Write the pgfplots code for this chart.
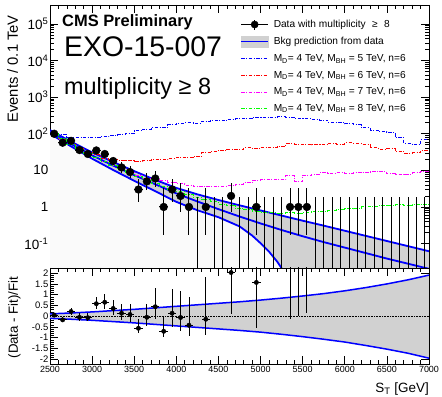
\documentclass[border=0pt]{standalone}
\usepackage{fontspec}
\setmainfont{Liberation Sans}
\usepackage{pgfplots}
\usepackage{pgfplotstable}
\pgfplotsset{compat=1.18}

\definecolor{bandgray}{gray}{0.82}
\definecolor{lightbg}{gray}{0.982}
\definecolor{rootblue}{rgb}{0,0,1}
\definecolor{rootred}{rgb}{1,0,0}
\definecolor{rootmag}{rgb}{1,0,1}
\definecolor{rootgreen}{rgb}{0,1,0}

\pgfplotsset{
  sigline/.style={line width=1bp, dash pattern=on 3.5bp off 1.5bp on 1bp off 1.5bp},
  siglegend/.style={legend image code/.code={\draw[##1] (0bp,0bp) -- (27bp,0bp);}},
  rootframe/.style={
    scale only axis, width=379bp, xmin=2500, xmax=7000,
    tick align=inside, xtick pos=both, ytick pos=both,
    xticklabel pos=lower, yticklabel pos=left,
    major tick length=8bp, minor tick length=4bp,
    tick style={black, line width=0.6bp},
    axis line style={line width=0.8bp},
    /pgf/number format/assume math mode=true,
    /pgf/number format/1000 sep={},
  },
}

% Observed counts per 100 GeV bin: centre, count, half width, Poisson errors
\pgfplotstableread{
x    y    ex  eyl    eyu
2550 100  50  9.97   11.0
2650 57   50  7.53   8.58
2750 64   50  7.98   9.04
2850 36   50  5.98   7.04
2950 28   50  5.26   6.35
3050 35   50  5.89   6.96
3150 28   50  5.26   6.35
3250 18   50  4.22   5.30
3350 12   50  3.41   4.55
3450 9    50  2.94   4.11
3550 3    50  1.63   2.92
3650 5    50  2.16   3.38
3750 6    50  2.38   3.58
3850 1    50  0.827  2.30
3950 3    50  1.63   2.92
4050 2    50  1.29   2.64
4150 1    50  0.827  2.30
4350 1    50  0.827  2.30
4650 2    50  1.29   2.64
4950 1    50  0.827  2.30
5350 1    50  0.827  2.30
5450 1    50  0.827  2.30
5550 1    50  0.827  2.30
}\datatab

% Empty bins: upper edge of the 68% interval for zero counts
\pgfplotstableread{
x    y
4250 1.84
4450 1.84
4550 1.84
4750 1.84
4850 1.84
5050 1.84
5150 1.84
5250 1.84
5650 1.84
5750 1.84
5850 1.84
5950 1.84
6050 1.84
6150 1.84
6250 1.84
6350 1.84
6450 1.84
6550 1.84
6650 1.84
6750 1.84
6850 1.84
6950 1.84
}\zerotab

% Background fit: central value and edges of the uncertainty band
\pgfplotstableread{
x    y
2500 112.2
2750 52.48
3000 25.70
3250 13.49
3500 7.413
3750 4.169
4000 2.344
4250 1.413
4500 0.871
4750 0.5495
5000 0.3548
5250 0.2344
5500 0.1585
5750 0.1096
6000 0.0776
6250 0.0550
6500 0.0389
6750 0.0282
7000 0.0204
}\fittab

\pgfplotstableread{
x    y
2500 125.9
2750 60.95
3000 30.90
3250 16.98
3500 9.550
3750 5.495
4000 3.311
4250 2.213
4500 1.549
4750 1.109
5000 0.8035
5250 0.5821
5500 0.4217
5750 0.3090
6000 0.2239
6250 0.1622
6500 0.1175
6750 0.0851
7000 0.0617
}\fitup

\pgfplotstableread{
x    y
2500 100
2750 45.19
3000 20.89
3250 10.23
3500 5.188
3750 2.692
4000 1.380
4250 0.8128
4500 0.5248
4750 0.2951
4900 0.1660
5000 0.1023
5100 0.0603
5200 0.0316
5300 0.0141
5400 0.0050
}\fitlow

% Signal + background expectations, 100 GeV bins (lower edges)
\pgfplotstableread{
x    b5    r6    m7    g8
2500 104.7 100   104.7 104.7
2600 93.3  70.8  70.8  72.4
2700 81.3  52.5  52.5  52.5
2800 79.4  39.8  38.0  38.9
2900 81.3  31.6  28.8  29.5
3000 79.4  26.3  22.9  22.9
3100 85.1  21.4  17.8  17.4
3200 91.2  20.0  13.8  13.5
3300 93.3  19.1  11.0  10.5
3400 100   18.6  8.91  8.32
3500 120.2 17.8  7.24  6.76
3600 134.9 18.6  6.17  5.50
3700 147.9 20.0  5.62  4.47
3800 151.4 19.5  5.25  3.72
3900 173.8 21.4  4.79  3.09
4000 190.5 22.9  4.37  2.57
4100 199.5 22.4  3.98  2.19
4200 195.0 24.0  3.72  1.86
4300 218.8 30.2  3.55  1.62
4400 229.1 33.1  3.55  1.38
4500 223.9 35.5  3.63  1.20
4600 251.2 37.2  3.80  1.07
4700 263.0 38.0  4.17  0.933
4800 257.0 41.7  4.57  0.851
4900 275.4 39.8  5.25  0.776
5000 281.8 42.7  5.50  0.724
5100 275.4 41.7  5.75  0.692
5200 288.4 45.7  5.62  0.676
5300 281.8 53.7  7.24  0.692
5400 269.2 52.5  5.01  0.676
5500 263.0 50.1  7.41  0.708
5600 251.2 52.5  7.76  0.741
5700 234.4 51.3  8.51  0.759
5800 204.2 55.0  8.32  0.794
5900 199.5 52.5  8.51  0.832
6000 186.2 56.2  8.32  0.891
6100 173.8 55.0  8.71  0.933
6200 144.5 52.5  8.91  1.00
6300 125.9 41.7  9.12  1.05
6400 114.8 38.0  9.33  1.10
6500 107.2 39.8  8.13  1.07
6600 79.4  33.1  7.59  1.15
6700 55.0  29.5  7.94  1.12
6800 50.1  30.2  8.71  1.17
6900 67.6  34.7  9.33  1.15
7000 67.6  34.7  9.33  1.15
}\sigtab

% (Data - Fit)/Fit per bin
\pgfplotstableread{
x    r     ex  el    eu
2550 0.05  50  0.104 0.116
2650 -0.17 50  0.109 0.124
2750 0.22  50  0.152 0.172
2850 -0.05 50  0.157 0.185
2950 -0.07 50  0.175 0.212
3050 0.58  50  0.267 0.315
3150 0.65  50  0.309 0.374
3250 0.36  50  0.32  0.40
3350 0.14  50  0.325 0.433
3450 0.08  50  0.354 0.495
3550 -0.56 50  0.24  0.43
3650 -0.05 50  0.41  0.64
3750 0.44  50  0.57  0.86
3850 -0.70 50  0.25  0.70
3950 0.14  50  0.62  1.11
4050 -0.06 50  0.61  1.25
4150 -0.42 50  0.48  1.33
4350 -0.14 50  0.71  1.98
4650 2.03  50  1.95  4.0
4950 1.57  50  2.12  5.9
5350 4.0   50  4.13  11.5
5450 4.88  50  4.86  13.5
5550 5.67  50  5.52  15.3
}\ratiotab

% Relative fit uncertainty
\pgfplotstableread{
x    up    lo
2500 0.11  -0.10
2750 0.15  -0.14
3000 0.20  -0.19
3250 0.26  -0.25
3500 0.32  -0.31
3750 0.39  -0.38
4000 0.46  -0.45
4250 0.53  -0.52
4500 0.60  -0.59
4750 0.67  -0.66
5000 0.75  -0.74
5250 0.84  -0.84
5500 0.94  -0.95
5750 1.05  -1.07
6000 1.18  -1.20
6250 1.33  -1.36
6500 1.50  -1.53
6750 1.69  -1.72
7000 1.91  -1.95
}\bandtab

\begin{document}
\begin{tikzpicture}
\useasboundingbox (0,0) rectangle (442bp,397bp);

% ---------------- upper panel ----------------
\begin{axis}[
  rootframe,
  at={(50bp,129bp)}, anchor=south west, height=263bp,
  ymode=log, ymin=0.0215, ymax=3.3e5, log origin y=infty,
  xtick={2500,3000,...,7000}, minor x tick num=4, xticklabels={},
  ytick={0.1,1,10,100,1000,10000,100000},
  yticklabels={10\textsuperscript{-1},1,10,10\textsuperscript{2},10\textsuperscript{3},10\textsuperscript{4},10\textsuperscript{5}},
  yticklabel style={font=\fontsize{13.5}{13.5}\selectfont, inner sep=1.5bp},
  legend cell align=left,
  legend style={at={(rel axis cs:0.497,0.955)}, anchor=north west,
    draw=none, fill=white, inner sep=2bp,
    font=\fontsize{10.2}{12}\selectfont,
    nodes={inner sep=0pt, text height=8bp, text depth=2.5bp},
    row sep=6.1bp, column sep=5bp},
]
\addlegendimage{legend image code/.code={
  \draw[black, line width=1bp] (0bp,0bp) -- (27bp,0bp);
  \draw[black, line width=1bp] (13.5bp,-5bp) -- (13.5bp,5bp);
  \fill[black] (13.5bp,0bp) circle (3.6bp);}}
\addlegendentry{Data with multiplicity \hspace{3.5bp}≥\hspace{3.5bp} 8}
\addlegendimage{legend image code/.code={
  \fill[bandgray] (0bp,-5.5bp) rectangle (27bp,5.5bp);
  \draw[rootblue, line width=1.2bp] (0bp,0bp) -- (27bp,0bp);}}
\addlegendentry{Bkg prediction from data}
\addlegendimage{siglegend, rootblue, sigline}
\addlegendentry{M\textsubscript{D}= 4 TeV, M\textsubscript{BH} = 5 TeV, n=6}
\addlegendimage{siglegend, rootred, sigline}
\addlegendentry{M\textsubscript{D}= 4 TeV, M\textsubscript{BH} = 6 TeV, n=6}
\addlegendimage{siglegend, rootmag, sigline}
\addlegendentry{M\textsubscript{D}= 4 TeV, M\textsubscript{BH} = 7 TeV, n=6}
\addlegendimage{siglegend, rootgreen, sigline}
\addlegendentry{M\textsubscript{D}= 4 TeV, M\textsubscript{BH} = 8 TeV, n=6}

% uncertainty band of the fit
\addplot[fill=bandgray, draw=none, forget plot] table {\fitup} \closedcycle;
\addplot[fill=lightbg, draw=none, forget plot] table {\fitlow} \closedcycle;
\addplot[rootblue, line width=1.8bp, forget plot] table {\fitup};
\addplot[rootblue, line width=1.8bp, forget plot] table {\fitlow};
\addplot[rootblue, line width=1.8bp, forget plot] table {\fittab};

% signal hypotheses
\addplot[const plot, rootblue, sigline, forget plot] table[x=x, y=b5] {\sigtab};
\addplot[const plot, rootred, sigline, forget plot] table[x=x, y=r6] {\sigtab};
\addplot[const plot, rootmag, sigline, forget plot] table[x=x, y=m7] {\sigtab};
\addplot[const plot, rootgreen, sigline, forget plot] table[x=x, y=g8] {\sigtab};

% data
\addplot[ycomb, black, line width=0.8bp, mark=none, forget plot] table {\zerotab};
\addplot[black, only marks, mark=*, mark size=3.9bp, forget plot,
  error bars/.cd, x dir=both, x explicit, y dir=both, y explicit,
  error mark=none, error bar style={black, line width=1bp}]
  table[x=x, y=y, x error=ex, y error minus=eyl, y error plus=eyu] {\datatab};
\end{axis}

% ---------------- ratio panel ----------------
\begin{axis}[
  rootframe,
  at={(50bp,33bp)}, anchor=south west, height=96bp,
  ymin=-2.22, ymax=2.24, clip marker paths=true,
  xtick={2500,3000,3500,4000,4500,5000,5500,6000,6500,7000}, minor x tick num=4,
  ytick={-2,-1.5,-1,-0.5,0,0.5,1,1.5,2}, minor y tick num=4,
  xticklabel style={font=\fontsize{9}{9}\selectfont, inner sep=1bp, yshift=-1.5bp},
  yticklabel style={font=\fontsize{9.5}{9.5}\selectfont, inner sep=1.5bp},
]
\addplot[fill=bandgray, draw=none] coordinates {
  (2500,0.11) (2750,0.15) (3000,0.20) (3250,0.26) (3500,0.32) (3750,0.39)
  (4000,0.46) (4250,0.53) (4500,0.60) (4750,0.67) (5000,0.75) (5250,0.84)
  (5500,0.94) (5750,1.05) (6000,1.18) (6250,1.33) (6500,1.50) (6750,1.69) (7000,1.91)
  (7000,-1.95) (6750,-1.72) (6500,-1.53) (6250,-1.36) (6000,-1.20) (5750,-1.07)
  (5500,-0.95) (5250,-0.84) (5000,-0.74) (4750,-0.66) (4500,-0.59) (4250,-0.52)
  (4000,-0.45) (3750,-0.38) (3500,-0.31) (3250,-0.25) (3000,-0.19) (2750,-0.14) (2500,-0.10)
} -- cycle;
\addplot[rootblue, line width=1.5bp] table[x=x, y=up] {\bandtab};
\addplot[rootblue, line width=1.5bp] table[x=x, y=lo] {\bandtab};
\addplot[black, densely dotted, line width=0.6bp] coordinates {(2500,0) (7000,0)};
\addplot[black, only marks, mark=*, mark size=2.2bp,
  error bars/.cd, x dir=both, x explicit, y dir=both, y explicit,
  error mark=none, error bar style={black, line width=0.8bp}]
  table[x=x, y=r, x error=ex, y error minus=el, y error plus=eu] {\ratiotab};
\end{axis}

% titles and axis labels
\node[anchor=base west, inner sep=0, font=\fontsize{16.5}{16.5}\selectfont\bfseries] at (62bp,370bp) {CMS Preliminary};
\node[anchor=base west, inner sep=0, font=\fontsize{28.5}{28.5}\selectfont] at (64bp,340bp) {EXO-15-007};
\node[anchor=base west, inner sep=0, font=\fontsize{23.5}{23.5}\selectfont] at (64bp,302.5bp) {multiplicity ≥ 8};
\node[rotate=90, anchor=north east, inner sep=0, font=\fontsize{14.8}{14.8}\selectfont] at (7bp,382bp) {Events / 0.1 TeV};
\node[rotate=90, anchor=north, inner sep=0, font=\fontsize{13.3}{13.3}\selectfont] at (8bp,79.5bp) {(Data - Fit)/Fit};
\node[anchor=base east, inner sep=0, font=\fontsize{13.5}{13.5}\selectfont] at (429bp,5bp) {S\textsubscript{T} [GeV]};
\end{tikzpicture}
\end{document}
